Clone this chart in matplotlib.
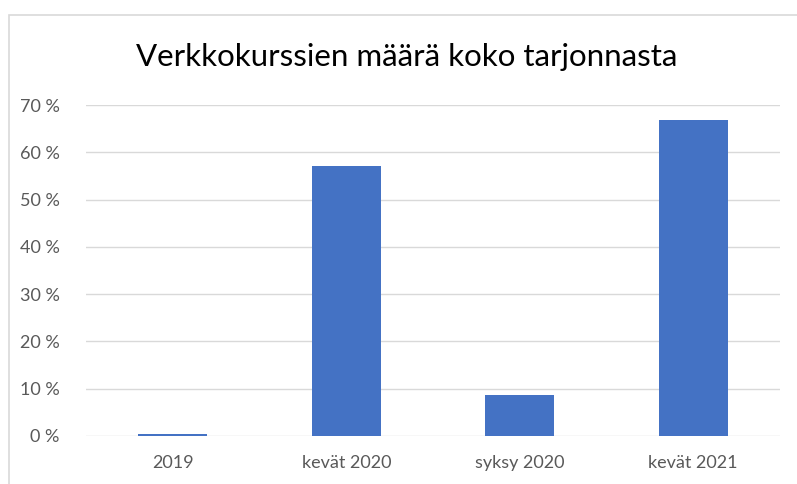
import matplotlib
matplotlib.use('Agg')
import matplotlib.pyplot as plt
from matplotlib.patches import Rectangle
from matplotlib.ticker import FuncFormatter

plt.rcParams['font.family'] = ['Lato', 'DejaVu Sans']

categories = ['2019', 'kevät 2020', 'syksy 2020', 'kevät 2021']
shares = [0.5, 57.1, 8.6, 66.8]
yticks = [0, 10, 20, 30, 40, 50, 60, 70]

W, H = 797, 484
fig = plt.figure(figsize=(W / 100, H / 100), dpi=100)

# chart frame (cut off at right and bottom like the screenshot)
fig.patches.append(Rectangle((9 / W, -0.1), 1.2, (H - 15) / H + 0.1,
                             transform=fig.transFigure, fill=False,
                             edgecolor='#d9d9d9', linewidth=1.2))

ax = fig.add_axes([86 / W, 48 / H, 694 / W, 331 / H])
ax.bar(range(len(categories)), shares, width=0.4, color='#4472C4', zorder=3)

ax.set_xlim(-0.5, len(categories) - 0.5)
ax.set_ylim(0, 70)
ax.set_yticks(yticks)
ax.yaxis.set_major_formatter(FuncFormatter(lambda v, p: f'{v:.0f} %'))
ax.set_xticks(range(len(categories)))
ax.set_xticklabels(categories)
ax.grid(axis='y', color='#d9d9d9', linewidth=1.0, zorder=0)
for s in ax.spines.values():
    s.set_visible(False)
ax.tick_params(length=0, colors='#595959', labelsize=13)
ax.tick_params(axis='y', pad=19)
ax.tick_params(axis='x', pad=14)

fig.text(407 / W, 1 - 57 / H, 'Verkkokurssien määrä koko tarjonnasta',
         ha='center', va='center', fontsize=22.5, color='#000000')

plt.savefig('out.png', dpi=100)
